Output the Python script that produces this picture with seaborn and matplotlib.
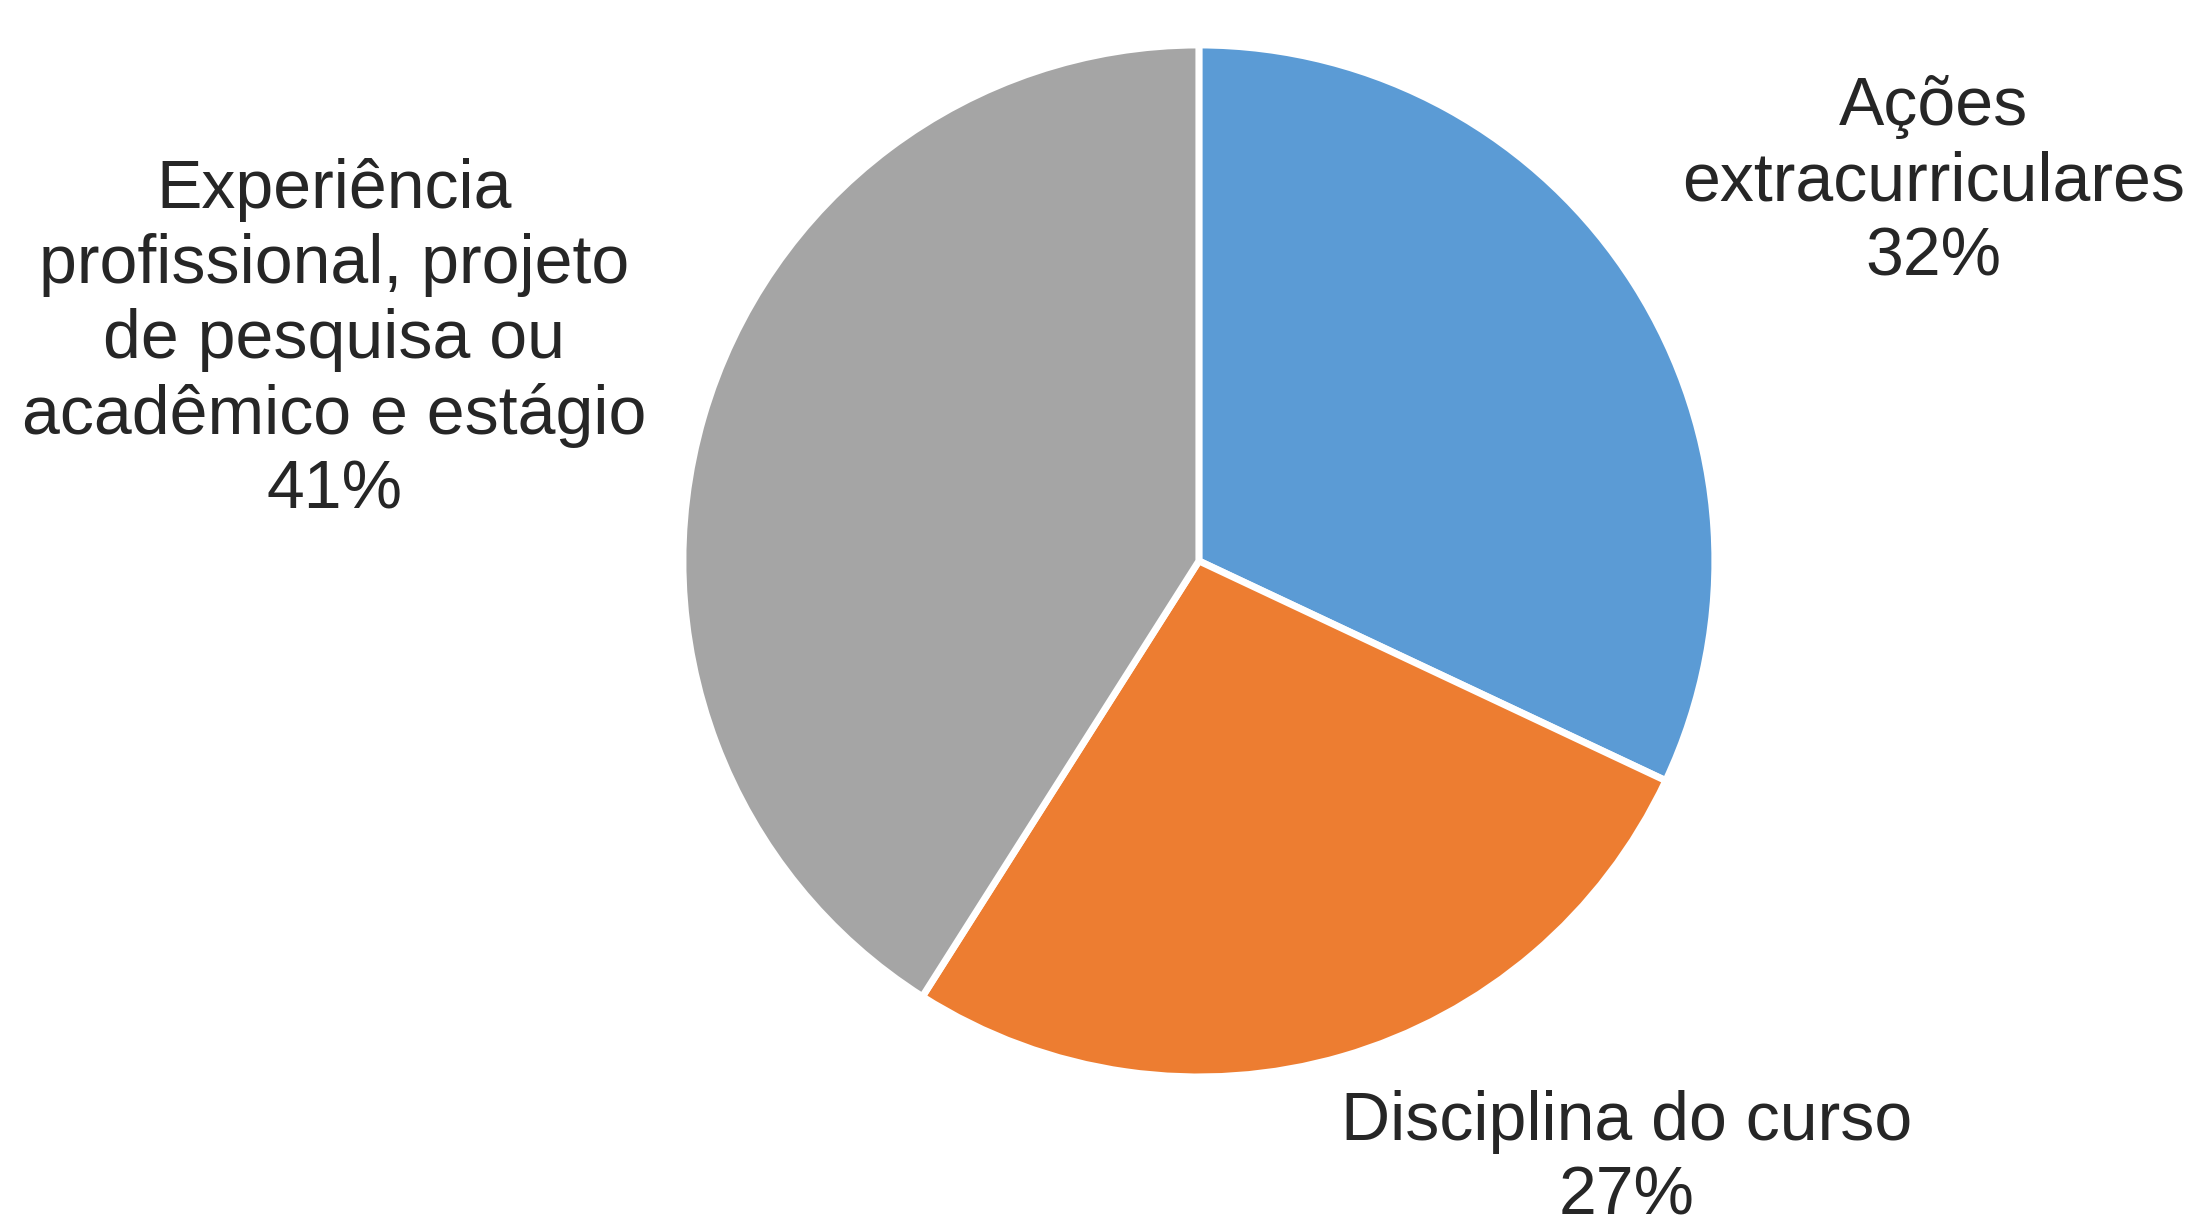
import numpy as np
import pandas as pd
import seaborn as sns
import matplotlib.pyplot as plt

# %% dados
categorias = ["Ações\nextracurriculares", "Disciplina do curso",
              "Experiência\nprofissional, projeto\nde pesquisa ou\nacadêmico e estágio"]
percentuais = [32, 27, 41]
cores = ["#5B9BD5", "#ED7D31", "#A5A5A5"]
# posição dos rótulos (coordenadas do eixo do pie)
rotulo_x = [1.424, 0.828, -1.676]
rotulo_y = [0.734, -1.16, 0.428]

df = pd.DataFrame({"categoria": categorias, "pct": percentuais})

# %% grafico
sns.set_style("white")
plt.rcParams["font.family"] = ["Liberation Sans", "DejaVu Sans"]

fig = plt.figure(figsize=(21.98, 12.22), dpi=100)
ax = fig.add_axes([0.3107, 0.1187, 0.4695, 0.8445])
ax.pie(df["pct"], colors=cores, startangle=90, counterclock=False,
       wedgeprops={"edgecolor": "white", "linewidth": 5})
ax.set_xlim(-1, 1)
ax.set_ylim(-1, 1)
ax.set_aspect("equal")
ax.axis("off")

for cat, p, x, y in zip(df["categoria"], df["pct"], rotulo_x, rotulo_y):
    ax.text(x, y, f"{cat}\n{p}%", ha="center", va="center", fontsize=49,
            color="#262626", linespacing=1.22, clip_on=False)

plt.savefig("out.png", dpi=100)
